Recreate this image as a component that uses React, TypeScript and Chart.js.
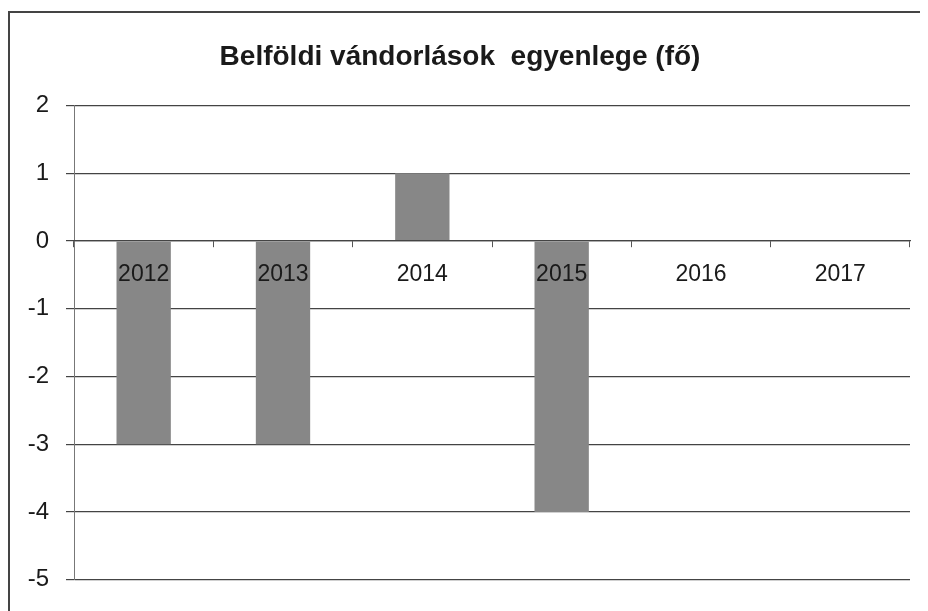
import React, { useEffect, useRef } from "react";
import { Chart, registerables } from "chart.js";

Chart.register(...registerables);

const categories = ["2012", "2013", "2014", "2015", "2016", "2017"];
const balanceValues = [-3, -3, 1, -4, 0, 0];
const titleText = "Belföldi vándorlások  egyenlege (fő)";
const yMin = -5;
const yMax = 2;

export default function App() {
  const ref = useRef<HTMLCanvasElement | null>(null);

  useEffect(() => {
    if (!ref.current) return;
    const chart = new Chart(ref.current, {
      type: "bar",
      data: {
        labels: categories,
        datasets: [
          {
            data: balanceValues,
            backgroundColor: "#878787",
            borderWidth: 0,
            barPercentage: 0.78,
            categoryPercentage: 0.5,
          },
        ],
      },
      options: {
        animation: false,
        responsive: false,
        layout: { padding: { left: 0, right: 18, top: 0, bottom: 25 } },
        plugins: {
          legend: { display: false },
          tooltip: { enabled: false },
          title: {
            display: true,
            text: titleText,
            color: "#1a1a1a",
            font: { family: "'Liberation Sans', Arial, sans-serif", size: 28, weight: "bold" },
            padding: { top: 27, bottom: 32 },
          },
        },
        scales: {
          x: {
            position: { y: 0 } as any,
            afterFit: (s: any) => {
              s.height = 0;
            },
            grid: {
              display: true,
              drawOnChartArea: false,
              drawTicks: true,
              tickLength: 6,
              offset: true,
              color: "#555",
              lineWidth: 1,
              z: 1,
            },
            border: { display: true, color: "#444", width: 1.2, z: 1 },
            ticks: {
              z: 1,
              color: "#1a1a1a",
              padding: 14,
              font: { family: "'Liberation Sans', Arial, sans-serif", size: 23 },
              maxRotation: 0,
            },
          },
          y: {
            min: yMin,
            max: yMax,
            afterFit: (s: any) => {
              s.width = 64;
            },
            grid: {
              color: "#444",
              lineWidth: 1.2,
              tickLength: 8,
            },
            border: { display: true, color: "#777", width: 1 },
            ticks: {
              stepSize: 1,
              color: "#1a1a1a",
              padding: 17,
              font: { family: "'Liberation Sans', Arial, sans-serif", size: 24 },
            },
          },
        },
      },
    });
    return () => chart.destroy();
  }, []);

  return (
    <div
      style={{
        marginTop: 3,
        borderLeft: "2px solid #444",
        borderTop: "2px solid #444",
        width: 918,
        height: 598,
        overflow: "hidden",
      }}
    >
      <canvas ref={ref} width={918} height={598} style={{ display: "block" }} />
    </div>
  );
}
